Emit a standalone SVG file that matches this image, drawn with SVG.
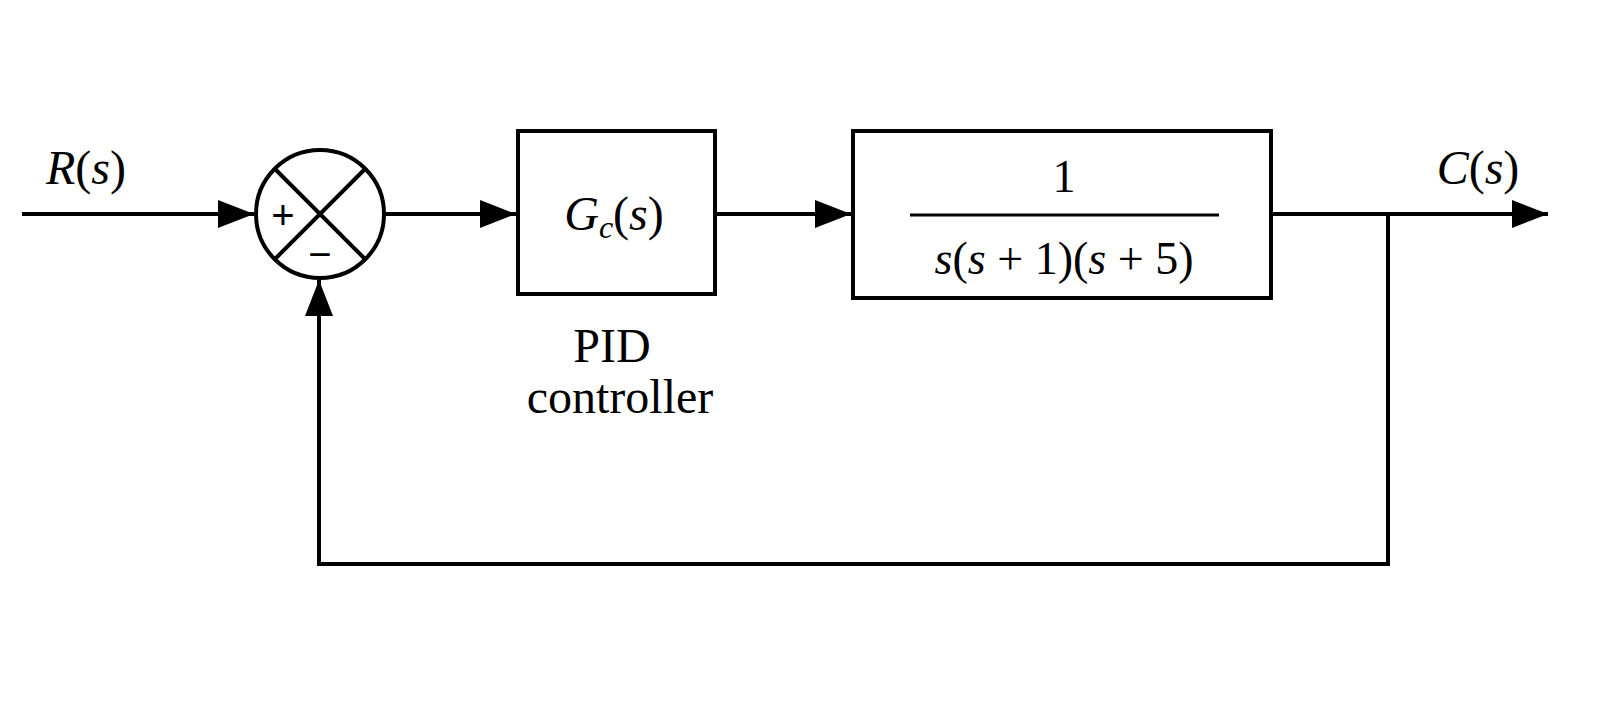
<svg xmlns="http://www.w3.org/2000/svg" width="1600" height="724" viewBox="0 0 1600 724">
<style>
.l{stroke:#000;stroke-width:4;fill:none}
.t{font-family:"Liberation Serif",serif;fill:#000}
.i{font-style:italic}
</style>
<defs>
<marker id="A" viewBox="0 0 36 28" refX="36" refY="14" markerWidth="36" markerHeight="28" orient="auto" markerUnits="userSpaceOnUse"><path d="M0,0L36,14L0,28z"/></marker></defs>
<rect width="1600" height="724" fill="#fff"/>
<g id="sum"><circle cx="320" cy="214" r="64" class="l"/>
<line x1="275" y1="169" x2="365" y2="259" class="l"/><line x1="365" y1="169" x2="275" y2="259" class="l"/>
<text x="283" y="229" font-family="Liberation Sans,sans-serif" font-size="40" text-anchor="middle">+</text>
<text x="320" y="268" font-family="Liberation Sans,sans-serif" font-size="40" text-anchor="middle">−</text></g>
<g id="gc"><rect x="518" y="131" width="197" height="163" class="l"/>
<text x="614" y="230" class="t i" font-size="48" text-anchor="middle">G<tspan font-size="32" dy="8">c</tspan><tspan dy="-8" font-style="normal">(</tspan>s<tspan font-style="normal">)</tspan></text>
<text x="612" y="362" class="t" font-size="48" text-anchor="middle">PID</text>
<text x="620" y="413" class="t" font-size="48" text-anchor="middle">controller</text></g>
<g id="plant"><rect x="853" y="131" width="418" height="167" class="l"/>
<text x="1064" y="192" class="t" font-size="46" text-anchor="middle">1</text>
<line x1="910" y1="215" x2="1219" y2="215" stroke="#000" stroke-width="3"/>
<text x="1064" y="274" class="t" font-size="46" text-anchor="middle"><tspan font-style="italic">s</tspan>(<tspan font-style="italic">s</tspan> + 1)(<tspan font-style="italic">s</tspan> + 5)</text></g>
<text x="86" y="184" class="t i" font-size="48" text-anchor="middle">R<tspan font-style="normal">(</tspan>s<tspan font-style="normal">)</tspan></text>
<text x="1478" y="184" class="t i" font-size="48" text-anchor="middle">C<tspan font-style="normal">(</tspan>s<tspan font-style="normal">)</tspan></text>
<g id="connectors">
<line x1="22" y1="214" x2="254" y2="214" class="l" marker-end="url(#A)"/>
<line x1="384" y1="214" x2="516" y2="214" class="l" marker-end="url(#A)"/>
<line x1="715" y1="214" x2="851" y2="214" class="l" marker-end="url(#A)"/>
<line x1="1271" y1="214" x2="1548" y2="214" class="l" marker-end="url(#A)"/>
<polyline points="1388,214 1388,564 319,564 319,280" class="l" marker-end="url(#A)"/>
</g>
</svg>
